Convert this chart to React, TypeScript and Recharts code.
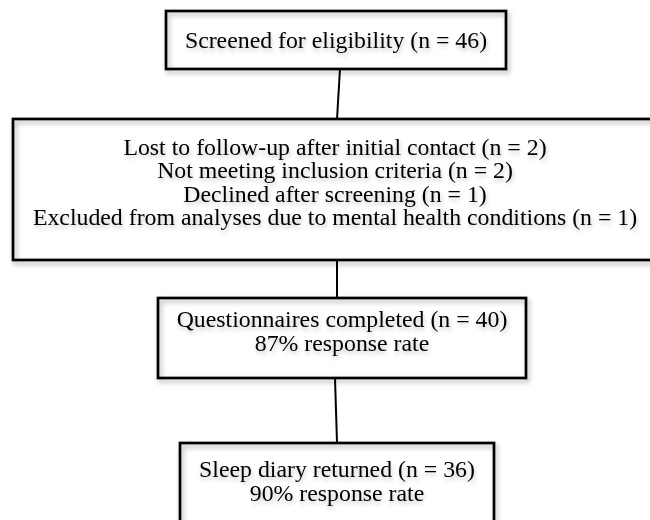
import React from "react";
import {
  ScatterChart,
  Scatter,
  XAxis,
  YAxis,
  ReferenceArea,
  ReferenceLine,
  Customized,
} from "recharts";

// flow stages, top to bottom
const screenedLines = ["Screened for eligibility (n = 46)"];
const excludedLines = [
  "Lost to follow-up after initial contact (n = 2)",
  "Not meeting inclusion criteria (n = 2)",
  "Declined after screening (n = 1)",
  "Excluded from analyses due to mental health conditions (n = 1)",
];
const questionnaireLines = ["Questionnaires completed (n = 40)", "87% response rate"];
const diaryLines = ["Sleep diary returned (n = 36)", "90% response rate"];

const stages = [screenedLines, excludedLines, questionnaireLines, diaryLines];

// layout in chart units (x 0..650, y 0..520 top-down)
const boxes = [
  { x1: 166, x2: 506, y1: 11, y2: 69 },
  { x1: 13, x2: 658, y1: 119, y2: 260 },
  { x1: 158, x2: 526, y1: 298, y2: 378 },
  { x1: 180, x2: 494, y1: 443, y2: 524 },
];
// centre of each text block
const textCenters = [
  { x: 336, y: 40 },
  { x: 335, y: 182 },
  { x: 342, y: 331 },
  { x: 337, y: 481 },
];
const connectors = [
  [{ x: 340, y: 69 }, { x: 337, y: 119 }],
  [{ x: 337, y: 260 }, { x: 337, y: 298 }],
  [{ x: 335, y: 378 }, { x: 337, y: 443 }],
];
const LINE_GAP = 23.5;

const textPoints = stages.flatMap((lines, b) => {
  const c = textCenters[b];
  return lines.map((text, i) => ({
    x: c.x,
    y: c.y + (i - (lines.length - 1) / 2) * LINE_GAP,
    text,
  }));
});

const FONT = '"Liberation Serif", "Times New Roman", serif';

const Defs = () => (
  <defs>
    <filter id="boxShadow" x="-10%" y="-10%" width="130%" height="140%">
      <feDropShadow dx="2" dy="3" stdDeviation="2.5" floodColor="#000" floodOpacity="0.3" />
    </filter>
    <filter id="textShadow" x="-5%" y="-30%" width="110%" height="180%">
      <feDropShadow dx="1" dy="3" stdDeviation="2" floodColor="#000" floodOpacity="0.22" />
    </filter>
  </defs>
);

const LabelShape = (props: any) => {
  const { cx, cy, payload } = props;
  return (
    <text
      x={cx}
      y={cy}
      textAnchor="middle"
      dominantBaseline="central"
      fontFamily={FONT}
      fontSize={23.8}
      fill="#000"
      filter="url(#textShadow)"
    >
      {payload.text}
    </text>
  );
};

const BoxShape = (props: any) => (
  <rect
    x={props.x}
    y={props.y}
    width={props.width}
    height={props.height}
    fill="none"
    stroke="#000"
    strokeWidth={2.7}
    filter="url(#boxShadow)"
  />
);

export default function App() {
  return (
    <div style={{ position: "absolute", left: 0, top: 0, background: "#fff" }}>
      <ScatterChart
        width={650}
        height={520}
        margin={{ top: 0, right: 0, bottom: 0, left: 0 }}
      >
        <Customized component={Defs} />
        <XAxis type="number" dataKey="x" domain={[0, 650]} hide />
        <YAxis type="number" dataKey="y" domain={[0, 520]} reversed hide />
        {boxes.map((b, i) => (
          <ReferenceArea
            key={"box" + i}
            x1={b.x1}
            x2={b.x2}
            y1={b.y1}
            y2={b.y2}
            ifOverflow="visible"
            shape={BoxShape}
          />
        ))}
        {connectors.map((seg, i) => (
          <ReferenceLine
            key={"line" + i}
            segment={seg}
            stroke="#000"
            strokeWidth={2}
            ifOverflow="visible"
          />
        ))}
        <Scatter
          data={textPoints}
          shape={LabelShape}
          isAnimationActive={false}
        />
      </ScatterChart>
    </div>
  );
}
